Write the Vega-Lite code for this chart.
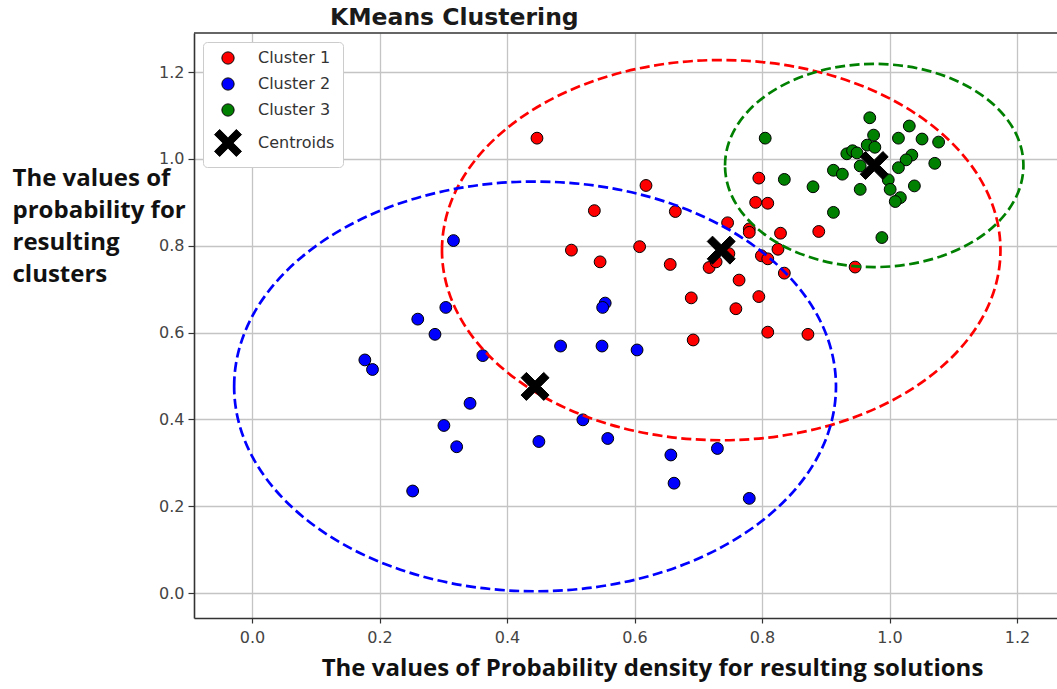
{
  "$schema": "https://vega.github.io/schema/vega-lite/v6.json",
  "width": 863,
  "height": 585,
  "autosize": {"type": "none"},
  "padding": {"left": 194, "top": 33, "right": 0, "bottom": 71},
  "background": "white",
  "title": {
    "text": "KMeans Clustering",
    "anchor": "start",
    "frame": "group",
    "dx": 136,
    "dy": 24,
    "offset": 8,
    "baseline": "alphabetic",
    "font": "DejaVu Sans",
    "fontSize": 23.5,
    "fontWeight": "bold",
    "color": "#1a1a1a"
  },
  "config": {
    "view": {"stroke": null},
    "legend": {
      "symbolStrokeColor": "black",
      "symbolStrokeWidth": 1,
      "symbolSize": 150
    }
  },
  "datasets": {
    "points": [
      {"label": "Cluster 1", "x": 0.447, "y": 1.048},
      {"label": "Cluster 1", "x": 0.618, "y": 0.939},
      {"label": "Cluster 1", "x": 0.537, "y": 0.881},
      {"label": "Cluster 1", "x": 0.664, "y": 0.879},
      {"label": "Cluster 1", "x": 0.501, "y": 0.790},
      {"label": "Cluster 1", "x": 0.608, "y": 0.798},
      {"label": "Cluster 1", "x": 0.546, "y": 0.763},
      {"label": "Cluster 1", "x": 0.656, "y": 0.757},
      {"label": "Cluster 1", "x": 0.795, "y": 0.956},
      {"label": "Cluster 1", "x": 0.790, "y": 0.900},
      {"label": "Cluster 1", "x": 0.809, "y": 0.898},
      {"label": "Cluster 1", "x": 0.746, "y": 0.853},
      {"label": "Cluster 1", "x": 0.780, "y": 0.839},
      {"label": "Cluster 1", "x": 0.780, "y": 0.831},
      {"label": "Cluster 1", "x": 0.829, "y": 0.829},
      {"label": "Cluster 1", "x": 0.889, "y": 0.833},
      {"label": "Cluster 1", "x": 0.825, "y": 0.792},
      {"label": "Cluster 1", "x": 0.799, "y": 0.777},
      {"label": "Cluster 1", "x": 0.809, "y": 0.770},
      {"label": "Cluster 1", "x": 0.835, "y": 0.737},
      {"label": "Cluster 1", "x": 0.717, "y": 0.750},
      {"label": "Cluster 1", "x": 0.748, "y": 0.782},
      {"label": "Cluster 1", "x": 0.764, "y": 0.721},
      {"label": "Cluster 1", "x": 0.689, "y": 0.680},
      {"label": "Cluster 1", "x": 0.795, "y": 0.683},
      {"label": "Cluster 1", "x": 0.759, "y": 0.655},
      {"label": "Cluster 1", "x": 0.809, "y": 0.601},
      {"label": "Cluster 1", "x": 0.872, "y": 0.596},
      {"label": "Cluster 1", "x": 0.692, "y": 0.583},
      {"label": "Cluster 1", "x": 0.946, "y": 0.751},
      {"label": "Cluster 1", "x": 0.728, "y": 0.763},
      {"label": "Cluster 2", "x": 0.316, "y": 0.812},
      {"label": "Cluster 2", "x": 0.554, "y": 0.668},
      {"label": "Cluster 2", "x": 0.550, "y": 0.658},
      {"label": "Cluster 2", "x": 0.304, "y": 0.658},
      {"label": "Cluster 2", "x": 0.260, "y": 0.631},
      {"label": "Cluster 2", "x": 0.287, "y": 0.596},
      {"label": "Cluster 2", "x": 0.484, "y": 0.569},
      {"label": "Cluster 2", "x": 0.549, "y": 0.569},
      {"label": "Cluster 2", "x": 0.604, "y": 0.560},
      {"label": "Cluster 2", "x": 0.177, "y": 0.537},
      {"label": "Cluster 2", "x": 0.189, "y": 0.515},
      {"label": "Cluster 2", "x": 0.362, "y": 0.547},
      {"label": "Cluster 2", "x": 0.342, "y": 0.437},
      {"label": "Cluster 2", "x": 0.301, "y": 0.386},
      {"label": "Cluster 2", "x": 0.321, "y": 0.337},
      {"label": "Cluster 2", "x": 0.252, "y": 0.235},
      {"label": "Cluster 2", "x": 0.450, "y": 0.349},
      {"label": "Cluster 2", "x": 0.519, "y": 0.399},
      {"label": "Cluster 2", "x": 0.558, "y": 0.356},
      {"label": "Cluster 2", "x": 0.657, "y": 0.318},
      {"label": "Cluster 2", "x": 0.662, "y": 0.253},
      {"label": "Cluster 2", "x": 0.730, "y": 0.333},
      {"label": "Cluster 2", "x": 0.780, "y": 0.218},
      {"label": "Cluster 3", "x": 0.805, "y": 1.048},
      {"label": "Cluster 3", "x": 0.969, "y": 1.095},
      {"label": "Cluster 3", "x": 1.031, "y": 1.076},
      {"label": "Cluster 3", "x": 0.975, "y": 1.055},
      {"label": "Cluster 3", "x": 1.014, "y": 1.048},
      {"label": "Cluster 3", "x": 1.051, "y": 1.046},
      {"label": "Cluster 3", "x": 1.077, "y": 1.039},
      {"label": "Cluster 3", "x": 0.965, "y": 1.032},
      {"label": "Cluster 3", "x": 0.977, "y": 1.027},
      {"label": "Cluster 3", "x": 0.933, "y": 1.012},
      {"label": "Cluster 3", "x": 0.942, "y": 1.019},
      {"label": "Cluster 3", "x": 0.949, "y": 1.014},
      {"label": "Cluster 3", "x": 1.035, "y": 1.009},
      {"label": "Cluster 3", "x": 1.026, "y": 0.998},
      {"label": "Cluster 3", "x": 1.071, "y": 0.990},
      {"label": "Cluster 3", "x": 1.014, "y": 0.980},
      {"label": "Cluster 3", "x": 0.912, "y": 0.974},
      {"label": "Cluster 3", "x": 0.926, "y": 0.965},
      {"label": "Cluster 3", "x": 0.954, "y": 0.984},
      {"label": "Cluster 3", "x": 0.998, "y": 0.952},
      {"label": "Cluster 3", "x": 1.001, "y": 0.930},
      {"label": "Cluster 3", "x": 0.954, "y": 0.930},
      {"label": "Cluster 3", "x": 1.039, "y": 0.938},
      {"label": "Cluster 3", "x": 1.017, "y": 0.911},
      {"label": "Cluster 3", "x": 1.009, "y": 0.902},
      {"label": "Cluster 3", "x": 0.912, "y": 0.877},
      {"label": "Cluster 3", "x": 0.988, "y": 0.819},
      {"label": "Cluster 3", "x": 0.835, "y": 0.953},
      {"label": "Cluster 3", "x": 0.880, "y": 0.936}
    ],
    "centroids": [
      {"label": "Centroids", "cluster": "Cluster 1", "x": 0.736, "y": 0.790},
      {"label": "Centroids", "cluster": "Cluster 2", "x": 0.444, "y": 0.476},
      {"label": "Centroids", "cluster": "Cluster 3", "x": 0.976, "y": 0.985}
    ]
  },
  "layer": [
    {
      "data": {"name": "points"},
      "mark": {"type": "point", "filled": true, "opacity": 1, "stroke": "black", "strokeWidth": 1, "size": 140},
      "encoding": {
        "x": {
          "field": "x", "type": "quantitative",
          "scale": {"domain": [-0.091, 1.2627], "nice": false, "zero": false},
          "axis": {
            "values": [0, 0.2, 0.4, 0.6, 0.8, 1.0, 1.2],
            "format": ".1f",
            "title": "The values of Probability density for resulting solutions",
            "titleFont": "Open Sans", "titleFontWeight": "bold", "titleFontSize": 24, "titleColor": "#111111",
            "titleX": 458, "titleY": 57, "titleAlign": "center", "titleBaseline": "alphabetic", "titleAnchor": null,
            "labelFont": "DejaVu Sans", "labelFontSize": 16, "labelColor": "#444444", "labelPadding": 6,
            "tickSize": 5, "tickColor": "#333333", "tickWidth": 1.2,
            "domainColor": "#333333", "domainWidth": 1.6,
            "grid": true, "gridColor": "#c4c4c4", "gridWidth": 1.3
          }
        },
        "y": {
          "field": "y", "type": "quantitative",
          "scale": {"domain": [-0.0576, 1.2903], "nice": false, "zero": false},
          "axis": {
            "values": [0, 0.2, 0.4, 0.6, 0.8, 1.0, 1.2],
            "format": ".1f",
            "title": ["The values of", "probability for", "resulting", "clusters"],
            "titleFont": "Open Sans", "titleFontWeight": "bold", "titleFontSize": 24, "titleColor": "#111111",
            "titleAngle": 0, "titleAlign": "left", "titleBaseline": "alphabetic", "titleAnchor": null,
            "titleX": -182, "titleY": 152, "titleLineHeight": 32,
            "labelFont": "DejaVu Sans", "labelFontSize": 16, "labelColor": "#444444", "labelPadding": 4,
            "tickSize": 6, "tickColor": "#333333", "tickWidth": 1.2,
            "domainColor": "#333333", "domainWidth": 1.6,
            "grid": true, "gridColor": "#c4c4c4", "gridWidth": 1.3
          }
        },
        "color": {
          "field": "label", "type": "nominal",
          "scale": {"domain": ["Cluster 1", "Cluster 2", "Cluster 3", "Centroids"], "range": ["#ff0000", "#0000ff", "#008000", "#000000"]},
          "legend": {
            "title": null, "orient": "top-left", "offset": 9, "padding": 8,
            "fillColor": "white", "strokeColor": "#cccccc", "cornerRadius": 4,
            "labelFont": "DejaVu Sans", "labelFontSize": 16, "labelColor": "#333333",
            "rowPadding": 8, "labelOffset": 22, "symbolOffset": 9, "symbolSize": 150,
            "symbolStrokeColor": "black", "symbolStrokeWidth": 1
          }
        },
        "shape": {
          "field": "label", "type": "nominal",
          "scale": {"domain": ["Cluster 1", "Cluster 2", "Cluster 3", "Centroids"], "range": ["circle", "circle", "circle", "M -1.364 -2.2 L 0 -0.836 L 1.364 -2.2 L 2.2 -1.364 L 0.836 0 L 2.2 1.364 L 1.364 2.2 L 0 0.836 L -1.364 2.2 L -2.2 1.364 L -0.836 0 L -2.2 -1.364 Z"]},
          "legend": {
            "title": null, "orient": "top-left", "offset": 9, "padding": 8,
            "fillColor": "white", "strokeColor": "#cccccc", "cornerRadius": 4,
            "labelFont": "DejaVu Sans", "labelFontSize": 16, "labelColor": "#333333",
            "rowPadding": 8, "labelOffset": 22, "symbolOffset": 9, "symbolSize": 150,
            "symbolStrokeColor": "black", "symbolStrokeWidth": 1
          }
        }
      }
    },
    {
      "data": {"name": "centroids"},
      "transform": [{"filter": "datum.cluster === 'Cluster 1'"}],
      "mark": {"type": "point", "filled": false, "shape": "M -1 0 C -1 -0.376 -0.5523 -0.6808 0 -0.6808 C 0.5523 -0.6808 1 -0.376 1 0 C 1 0.376 0.5523 0.6808 0 0.6808 C -0.5523 0.6808 -1 0.376 -1 0 Z", "size": 311900, "stroke": "#ff0000", "strokeWidth": 2.7, "strokeDash": [10, 4.5], "opacity": 1},
      "encoding": {
        "x": {"field": "x", "type": "quantitative"},
        "y": {"field": "y", "type": "quantitative"}
      }
    },
    {
      "data": {"name": "centroids"},
      "transform": [{"filter": "datum.cluster === 'Cluster 2'"}],
      "mark": {"type": "point", "filled": false, "shape": "M -1 0 C -1 -0.376 -0.5523 -0.6808 0 -0.6808 C 0.5523 -0.6808 1 -0.376 1 0 C 1 0.376 0.5523 0.6808 0 0.6808 C -0.5523 0.6808 -1 0.376 -1 0 Z", "size": 362200, "stroke": "#0000ff", "strokeWidth": 2.7, "strokeDash": [10, 4.5], "opacity": 1},
      "encoding": {
        "x": {"field": "x", "type": "quantitative"},
        "y": {"field": "y", "type": "quantitative"}
      }
    },
    {
      "data": {"name": "centroids"},
      "transform": [{"filter": "datum.cluster === 'Cluster 3'"}],
      "mark": {"type": "point", "filled": false, "shape": "M -1 0 C -1 -0.376 -0.5523 -0.6808 0 -0.6808 C 0.5523 -0.6808 1 -0.376 1 0 C 1 0.376 0.5523 0.6808 0 0.6808 C -0.5523 0.6808 -1 0.376 -1 0 Z", "size": 89040, "stroke": "#008000", "strokeWidth": 2.7, "strokeDash": [10, 4.5], "opacity": 1},
      "encoding": {
        "x": {"field": "x", "type": "quantitative"},
        "y": {"field": "y", "type": "quantitative"}
      }
    },
    {
      "data": {"name": "centroids"},
      "mark": {"type": "point", "filled": true, "opacity": 1, "stroke": "black", "strokeWidth": 1, "size": 162},
      "encoding": {
        "x": {"field": "x", "type": "quantitative"},
        "y": {"field": "y", "type": "quantitative"},
        "color": {"field": "label", "type": "nominal"},
        "shape": {"field": "label", "type": "nominal"}
      }
    },
    {
      "data": {"values": [{}]},
      "mark": {"type": "rule", "stroke": "#333333", "strokeWidth": 1.6},
      "encoding": {"y": {"datum": 1.2903}}
    }
  ]
}
